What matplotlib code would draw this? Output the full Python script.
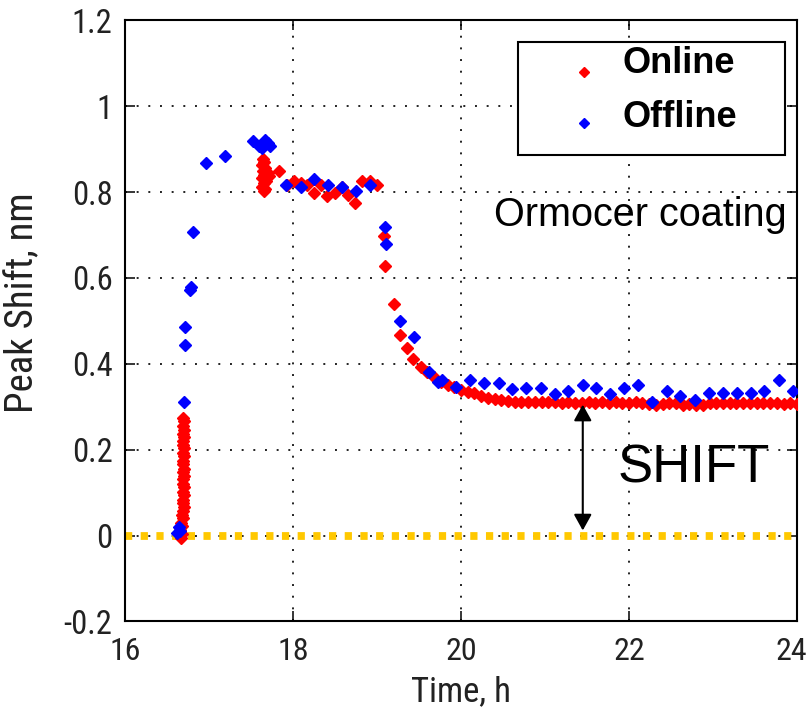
import matplotlib
matplotlib.use("Agg")
import matplotlib.pyplot as plt
import matplotlib.transforms as mtransforms
from matplotlib.patches import Rectangle
from matplotlib.lines import Line2D

plt.rcParams["lines.scale_dashes"] = False
NARROW = ["Liberation Sans Narrow", "DejaVu Sans Condensed", "Roboto Condensed",
          "Liberation Sans", "DejaVu Sans"]
REGULAR = ["Liberation Sans", "DejaVu Sans"]
plt.rcParams["font.family"] = NARROW

# ---- Online measurement (red) ----
online_t = [
    16.69, 16.70, 16.69, 16.70, 16.69, 16.70, 16.69, 16.69, 16.70, 16.69,
    16.70, 16.69, 16.69, 16.70, 16.69, 16.70, 16.69, 16.69, 16.70, 16.69,
    16.70, 16.69, 16.69, 16.70, 16.69, 16.68, 16.69, 16.67, 16.68, 16.66,
    16.68, 16.67,
    17.64, 17.66, 17.63, 17.67, 17.64, 17.66, 17.63, 17.68, 17.65, 17.63,
    17.67, 17.66, 17.70, 17.72,
    17.83, 17.93, 18.01, 18.09, 18.17, 18.25, 18.33, 18.41, 18.50, 18.58,
    18.66, 18.74, 18.82, 18.92, 19.00, 19.08, 19.10, 19.20, 19.28, 19.36,
    19.43, 19.52, 19.60, 19.68, 19.76, 19.84, 19.92, 20.00, 20.08, 20.16,
    20.24, 20.32, 20.40, 20.48, 20.56, 20.64,
    20.72, 20.80, 20.88, 20.96, 21.04, 21.12, 21.20, 21.28, 21.36, 21.44,
    21.52, 21.60, 21.68, 21.76, 21.84, 21.92, 22.00, 22.08, 22.16, 22.24,
    22.32, 22.40, 22.48, 22.56, 22.64, 22.72, 22.80, 22.88, 22.96, 23.04,
    23.12, 23.20, 23.28, 23.36, 23.44, 23.52, 23.60, 23.68, 23.76, 23.84,
    23.92, 24.00,
]
online_v = [
    0.274, 0.266, 0.255, 0.247, 0.237, 0.229, 0.221, 0.210, 0.203, 0.192,
    0.185, 0.174, 0.167, 0.156, 0.149, 0.139, 0.131, 0.120, 0.113, 0.102,
    0.095, 0.084, 0.077, 0.066, 0.058, 0.049, 0.041, 0.030, 0.022, 0.012,
    0.004, -0.006,
    0.877, 0.870, 0.862, 0.855, 0.848, 0.840, 0.833, 0.826, 0.820, 0.812,
    0.808, 0.802, 0.845, 0.838,
    0.848, 0.817, 0.825, 0.821, 0.817, 0.798, 0.817, 0.790, 0.798, 0.812,
    0.794, 0.775, 0.825, 0.825, 0.817, 0.698, 0.628, 0.539, 0.467, 0.436,
    0.412, 0.393, 0.380, 0.370, 0.358, 0.351, 0.345, 0.340, 0.335, 0.331,
    0.326, 0.321, 0.318, 0.316, 0.314, 0.312,
    0.311, 0.310, 0.311, 0.310, 0.310, 0.311, 0.309, 0.310, 0.309, 0.308,
    0.310, 0.309, 0.310, 0.309, 0.310, 0.309, 0.309, 0.310, 0.308, 0.307,
    0.305, 0.306, 0.309, 0.308, 0.304, 0.306, 0.303, 0.305, 0.309, 0.308,
    0.309, 0.308, 0.309, 0.308, 0.309, 0.308, 0.309, 0.308, 0.308, 0.307,
    0.308, 0.307,
]

# ---- Offline measurement (blue) ----
offline_t = [
    16.62, 16.64, 16.66, 16.70, 16.72, 16.72, 16.77, 16.78, 16.81, 16.97,
    17.19, 17.53, 17.59, 17.63, 17.67, 17.70, 17.73,
    17.92, 18.09, 18.25, 18.42, 18.58, 18.75, 18.92, 19.09, 19.11, 19.28,
    19.44, 19.62, 19.73, 19.78, 19.94, 20.11, 20.27, 20.45, 20.61, 20.78,
    20.95, 21.12, 21.27, 21.45, 21.61, 21.78, 21.94, 22.11, 22.28, 22.45,
    22.61, 22.79, 22.95, 23.12, 23.29, 23.45, 23.61, 23.79, 23.95,
]
offline_v = [
    0.005, 0.020, 0.010, 0.312, 0.443, 0.486, 0.571, 0.580, 0.706, 0.867,
    0.884, 0.918, 0.907, 0.902, 0.921, 0.914, 0.907,
    0.817, 0.811, 0.830, 0.817, 0.811, 0.802, 0.817, 0.719, 0.678, 0.499,
    0.463, 0.382, 0.358, 0.362, 0.347, 0.362, 0.355, 0.355, 0.342, 0.343,
    0.343, 0.329, 0.337, 0.351, 0.343, 0.329, 0.343, 0.351, 0.312, 0.337,
    0.324, 0.316, 0.331, 0.331, 0.331, 0.331, 0.337, 0.362, 0.337,
]

x_ticks = [16, 18, 20, 22, 24]
y_ticks = [-0.2, 0, 0.2, 0.4, 0.6, 0.8, 1.0, 1.2]
y_tick_labels = ["-0.2", "0", "0.2", "0.4", "0.6", "0.8", "1", "1.2"]
series_labels = ["Online", "Offline"]
series_colors = ["#ff0000", "#0000ff"]

baseline = 0.0
shift_time = 21.45
shift_low = 0.012
shift_high = 0.305

fig = plt.figure(figsize=(8.1, 7.15), dpi=100)
ax = fig.add_axes([0.1543, 0.1308, 0.8296, 0.8408])

ax.set_xlim(16, 24)
ax.set_ylim(-0.2, 1.2)

# dotted grid
ax.grid(True, color="#222222", linestyle=(0, (1.4, 7.0)), linewidth=1.4, zorder=0)
ax.set_axisbelow(True)

# zero baseline
ax.axhline(baseline, color="#ffc800", linewidth=5.6, dashes=(5.2, 6.1),
           solid_capstyle="butt", dash_capstyle="butt", zorder=1)

ms = 6.0
ax.plot(online_t, online_v, linestyle="none", marker="D", markersize=ms,
        color=series_colors[0], markeredgecolor=series_colors[0],
        markeredgewidth=1.0, zorder=3)
ax.plot(offline_t, offline_v, linestyle="none", marker="D", markersize=ms,
        color=series_colors[1], markeredgecolor=series_colors[1],
        markeredgewidth=1.0, zorder=4)

# ticks & spines
ax.set_xticks(x_ticks)
ax.set_yticks(y_ticks)
ax.set_yticklabels(y_tick_labels)
ax.tick_params(direction="in", length=7, width=1.1, top=True, right=True,
               colors="black", labelcolor="#222222")
ax.tick_params(axis="y", pad=9, labelsize=23.5)
ax.tick_params(axis="x", pad=11, labelsize=23)
for sp in ax.spines.values():
    sp.set_linewidth(1.5)
    sp.set_color("black")

# keep the last x tick label inside the figure edge
last_label = ax.get_xticklabels()[-1]
last_label.set_transform(last_label.get_transform() +
                         mtransforms.ScaledTranslation(-4 / 72, 0, fig.dpi_scale_trans))

ax.set_xlabel("Time, h", fontsize=25, color="#222222", labelpad=7)
ax.set_ylabel("Peak Shift, nm", fontsize=28, color="#222222")
ax.yaxis.set_label_coords(-0.125, 0.53)

# annotations
ax.text(23.88, 0.722, "Ormocer coating", fontsize=28.5, ha="right", va="baseline",
        family=REGULAR, color="black", zorder=6)
ax.text(21.87, 0.123, "SHIFT", fontsize=38, ha="left", va="baseline",
        family=REGULAR, color="black", zorder=6)
ax.annotate("", xy=(shift_time, shift_high), xytext=(shift_time, shift_low),
            arrowprops=dict(arrowstyle="<|-|>,head_length=0.65,head_width=0.36",
                            mutation_scale=15, lw=1.5, color="black",
                            shrinkA=0, shrinkB=0), zorder=6)

# legend box
ax.add_patch(Rectangle((0.585, 0.776), 0.397, 0.188, transform=ax.transAxes,
                       facecolor="white", edgecolor="black", linewidth=1.5,
                       zorder=7))
for label, color, my, ty in zip(series_labels, series_colors,
                                [0.914, 0.829], [0.912, 0.822]):
    ax.add_line(Line2D([0.683], [my], transform=ax.transAxes, marker="D",
                       markersize=5, color=color, markeredgecolor=color,
                       linestyle="none", zorder=8))
    ax.text(0.741, ty, label, transform=ax.transAxes, fontsize=26,
            fontweight="bold", family=REGULAR,
            ha="left", va="baseline", color="black", zorder=8)

fig.savefig("out.png", dpi=100, facecolor="white")
